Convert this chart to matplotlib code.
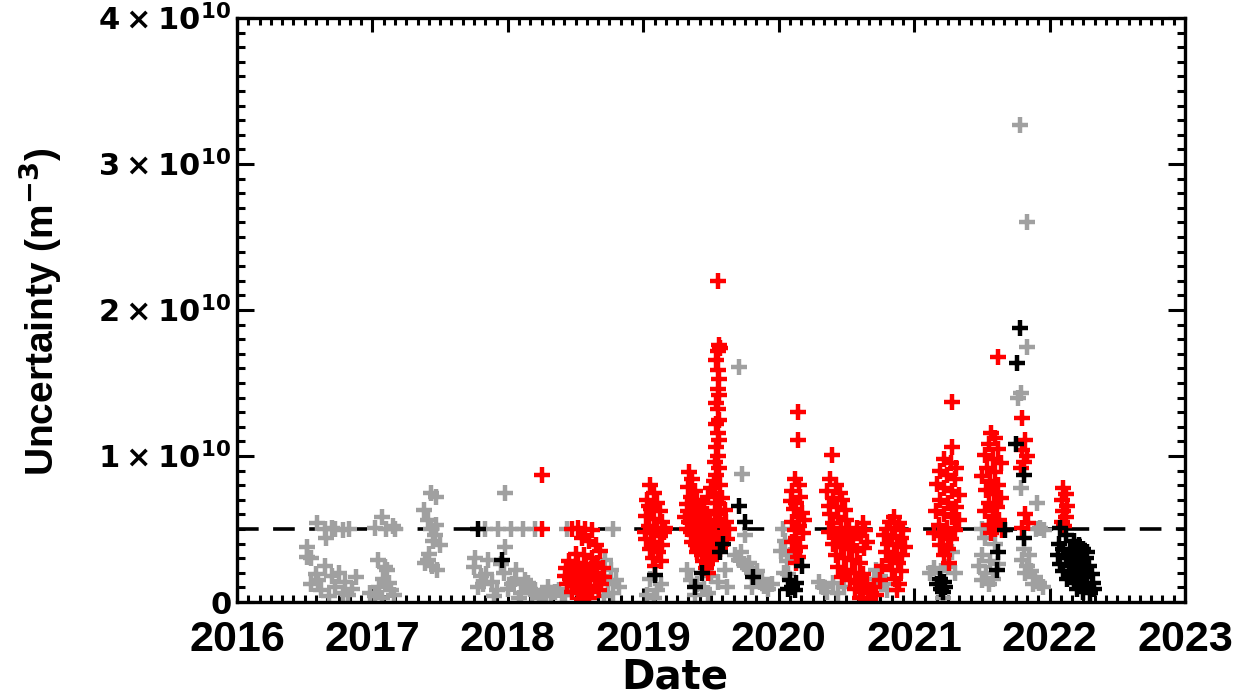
import numpy as np
import matplotlib
matplotlib.use("Agg")
import matplotlib.pyplot as plt
from matplotlib.ticker import FixedLocator, MultipleLocator

plt.rcParams['font.family'] = ['Liberation Sans', 'DejaVu Sans']
plt.rcParams['font.weight'] = 'bold'
plt.rcParams['mathtext.fontset'] = 'dejavusans'
plt.rcParams['mathtext.default'] = 'bf'

SCALE = 1e9  # values below are in units of 1e9 m^-3

# ---------------- data (decimal year, uncertainty / 1e9) ----------------
gray_t = [
    # 2016.5-2016.9
    2016.52, 2016.52, 2016.55, 2016.60, 2016.55, 2016.65, 2016.70, 2016.72, 2016.78, 2016.80,
    2016.85, 2016.88, 2016.62, 2016.68, 2016.75, 2016.59, 2016.65, 2016.70, 2016.72, 2016.78,
    2016.83, 2016.66, 2016.58, 2016.82,
    # 2017.0-2017.2
    2017.02, 2017.07, 2017.10, 2017.15, 2017.17, 2016.98, 2017.02, 2017.05, 2017.08, 2017.11,
    2017.14, 2017.04, 2017.09, 2017.12, 2017.07, 2017.16,
    # 2017.35-2017.55
    2017.43, 2017.47, 2017.38, 2017.41, 2017.43, 2017.46, 2017.50, 2017.45, 2017.41, 2017.44,
    2017.48, 2017.39, 2017.47, 2017.42,
    # 2017.7-2018.4
    2017.83, 2017.93, 2018.02, 2018.11, 2018.20, 2017.98, 2017.98, 2017.85, 2017.75, 2017.80,
    2017.88, 2017.95, 2018.00, 2018.05, 2018.10, 2018.15, 2018.20, 2018.25, 2018.30, 2018.35,
    2017.78, 2017.84, 2017.90, 2017.97, 2018.03, 2018.08, 2018.13, 2018.18, 2018.23, 2018.28,
    2017.76, 2017.82, 2017.92, 2018.06, 2018.16, 2018.32, 2018.38, 2018.40,
    # around 2018.5 red blob
    2018.44, 2018.78, 2018.72, 2018.76, 2018.70, 2018.74, 2018.78, 2018.82, 2018.71, 2018.80,
    2018.42, 2018.45,
    # 2019.0-2019.2
    2019.05, 2019.10, 2019.03, 2019.13, 2019.08,
    # 2019.3-2019.65
    2019.35, 2019.40, 2019.45, 2019.50, 2019.55, 2019.60, 2019.32, 2019.38, 2019.62, 2019.48,
    # 2019.7-2019.95
    2019.71, 2019.73, 2019.75, 2019.68, 2019.71, 2019.74, 2019.77, 2019.80, 2019.83, 2019.86,
    2019.89, 2019.92, 2019.72, 2019.78, 2019.84, 2019.88, 2019.95, 2019.80,
    # 2020.0-2020.1
    2020.03, 2020.05, 2020.02, 2020.06, 2020.04, 2020.08, 2020.07,
    # 2020.3-2020.5
    2020.33, 2020.36, 2020.40, 2020.44, 2020.30, 2020.48,
    # 2020.7-2020.8
    2020.72, 2020.75, 2020.78, 2020.70, 2020.80,
    # 2021.1-2021.35
    2021.15, 2021.20, 2021.25, 2021.30, 2021.12, 2021.28, 2021.21,
    # 2021.45-2021.65
    2021.50, 2021.55, 2021.52, 2021.60, 2021.50, 2021.56, 2021.48, 2021.53, 2021.58, 2021.55,
    2021.62, 2021.50,
    # 2021.75-2021.97
    2021.78, 2021.83, 2021.83, 2021.79, 2021.77, 2021.79, 2021.91, 2021.81, 2021.80, 2021.83,
    2021.86, 2021.89, 2021.92, 2021.95, 2021.82, 2021.88, 2021.90, 2021.93, 2021.96, 2021.85,
]
gray_v = [
    3.8, 3.1, 3.0, 1.5, 1.2, 2.5, 1.8, 1.0, 0.6, 1.4,
    0.9, 1.7, 0.8, 0.4, 2.0, 5.4, 5.0, 5.1, 5.0, 4.9,
    5.0, 4.4, 1.9, 0.5,
    5.1, 5.8, 5.0, 5.2, 5.0, 0.6, 0.4, 1.0, 1.6, 2.2,
    0.8, 2.9, 2.4, 1.3, 0.3, 0.5,
    7.5, 7.2, 6.3, 5.6, 5.0, 4.6, 3.9, 4.2, 2.9, 2.5,
    2.2, 2.7, 5.3, 3.3,
    5.0, 5.0, 5.0, 5.0, 5.0, 7.5, 3.8, 2.9, 2.4, 1.8,
    1.4, 2.6, 0.9, 1.6, 0.6, 1.3, 0.8, 0.5, 1.0, 0.7,
    1.0, 1.9, 0.4, 2.0, 1.2, 0.3, 1.5, 0.6, 0.3, 0.4,
    3.0, 1.2, 0.8, 2.2, 0.9, 0.6, 0.8, 0.5,
    5.0, 5.0, 2.9, 2.2, 1.8, 1.2, 0.6, 1.0, 0.4, 1.5,
    0.5, 0.9,
    1.6, 0.8, 0.5, 1.2, 0.3,
    1.5, 1.2, 0.9, 1.8, 1.4, 2.2, 2.2, 0.5, 1.0, 0.6,
    16.1, 8.8, 4.6, 3.2, 2.9, 2.6, 2.3, 2.0, 1.7, 1.4,
    1.1, 0.9, 3.4, 2.7, 2.1, 1.6, 1.2, 1.0,
    5.0, 4.2, 3.5, 2.8, 2.0, 3.2, 1.9,
    1.0, 0.7, 1.3, 0.6, 1.4, 1.0,
    2.2, 1.8, 1.2, 1.6, 0.8,
    2.3, 2.1, 2.4, 2.0, 2.0, 3.4, 0.3,
    5.0, 5.3, 4.4, 4.0, 3.2, 2.8, 2.5, 2.0, 1.6, 1.2,
    2.6, 1.5,
    32.7, 26.0, 17.5, 14.3, 14.0, 7.8, 6.8, 3.6, 2.9, 2.5,
    2.1, 1.7, 1.3, 1.0, 2.0, 1.2, 5.0, 5.1, 4.9, 3.2,
]

red_t = [
    # 2018.25
    2018.25, 2018.25,
    # 2018.4-2018.72 blob
    2018.47, 2018.52, 2018.57, 2018.62, 2018.55, 2018.60, 2018.65, 2018.68, 2018.50, 2018.56,
    2018.62, 2018.45, 2018.52, 2018.58, 2018.66, 2018.43, 2018.48, 2018.54, 2018.60, 2018.65,
    2018.70, 2018.42, 2018.46, 2018.51, 2018.56, 2018.61, 2018.66, 2018.71, 2018.44, 2018.49,
    2018.54, 2018.59, 2018.64, 2018.69, 2018.47, 2018.52, 2018.57, 2018.62, 2018.67, 2018.55,
    2018.60, 2018.58, 2018.50, 2018.63,
    # 2019.0-2019.18
    2019.05, 2019.08, 2019.03, 2019.10, 2019.06, 2019.12, 2019.02, 2019.08, 2019.14, 2019.04,
    2019.10, 2019.16, 2019.06, 2019.12, 2019.02, 2019.08, 2019.14, 2019.05, 2019.11, 2019.07,
    2019.13, 2019.09, 2019.04, 2019.15, 2019.01,
    # 2019.3-2019.65 blob
    2019.34, 2019.36, 2019.33, 2019.38, 2019.35, 2019.40, 2019.32, 2019.37, 2019.42, 2019.45,
    2019.48, 2019.50, 2019.47,
    2019.31, 2019.34, 2019.37, 2019.40, 2019.43, 2019.46, 2019.49, 2019.52, 2019.55, 2019.58,
    2019.61, 2019.63, 2019.32, 2019.35, 2019.38, 2019.41, 2019.44, 2019.47, 2019.50, 2019.53,
    2019.56, 2019.59, 2019.62, 2019.36, 2019.39, 2019.42, 2019.45, 2019.48, 2019.51, 2019.54,
    2019.57, 2019.40, 2019.43, 2019.46, 2019.49, 2019.52, 2019.44, 2019.47, 2019.50, 2019.46,
    2019.48, 2019.53, 2019.57, 2019.60, 2019.55, 2019.39, 2019.44, 2019.33,
    # 2019.55 column
    2019.55, 2019.56, 2019.55, 2019.57, 2019.54, 2019.55, 2019.56, 2019.55, 2019.56, 2019.54,
    2019.55, 2019.56, 2019.54, 2019.55, 2019.56, 2019.54, 2019.55, 2019.53, 2019.56, 2019.54,
    2019.52, 2019.57, 2019.53, 2019.58,
    # 2020.08-2020.21
    2020.14, 2020.14, 2020.12, 2020.15, 2020.10, 2020.16, 2020.13, 2020.11, 2020.17, 2020.14,
    2020.10, 2020.15, 2020.12, 2020.18, 2020.13, 2020.10, 2020.16, 2020.12, 2020.14, 2020.13,
    2020.19, 2020.09,
    # 2020.33-2020.72
    2020.39, 2020.38, 2020.42, 2020.36, 2020.45, 2020.40, 2020.47, 2020.37, 2020.43, 2020.49,
    2020.38, 2020.44, 2020.50, 2020.40, 2020.46, 2020.52, 2020.37, 2020.43, 2020.49, 2020.55,
    2020.40, 2020.46, 2020.52, 2020.58, 2020.42, 2020.48, 2020.54, 2020.60, 2020.44, 2020.50,
    2020.56, 2020.62, 2020.47, 2020.53, 2020.59, 2020.65, 2020.56, 2020.62, 2020.68, 2020.60,
    2020.66, 2020.72, 2020.70,
    2020.62, 2020.64, 2020.61, 2020.65, 2020.63, 2020.58,
    # 2020.75-2020.93
    2020.85, 2020.82, 2020.89, 2020.80, 2020.86, 2020.92, 2020.78, 2020.84, 2020.90, 2020.81,
    2020.87, 2020.93, 2020.79, 2020.85, 2020.91, 2020.82, 2020.88, 2020.84, 2020.90, 2020.86,
    2020.89, 2020.87, 2020.76, 2020.75,
    # 2021.15-2021.34
    2021.28, 2021.28, 2021.22, 2021.27, 2021.31, 2021.19, 2021.24, 2021.30, 2021.17, 2021.22,
    2021.28, 2021.33, 2021.19, 2021.25, 2021.31, 2021.16, 2021.22, 2021.28, 2021.33, 2021.18,
    2021.24, 2021.30, 2021.15, 2021.21, 2021.27, 2021.19, 2021.25, 2021.22, 2021.26,
    # 2021.5-2021.66
    2021.62, 2021.57, 2021.60, 2021.55, 2021.62, 2021.52, 2021.58, 2021.64, 2021.54, 2021.60,
    2021.50, 2021.56, 2021.62, 2021.53, 2021.59, 2021.64, 2021.55, 2021.61, 2021.52, 2021.58,
    2021.63, 2021.55, 2021.60, 2021.57, 2021.65,
    # 2021.8 column
    2021.80, 2021.82, 2021.80, 2021.83, 2021.81, 2021.79, 2021.82, 2021.80, 2021.84,
    # 2022.1
    2022.10, 2022.12, 2022.09, 2022.13, 2022.10, 2022.12, 2022.09, 2022.11,
]
red_v = [
    8.7, 5.0,
    5.0, 5.1, 5.0, 4.9, 4.4, 4.2, 3.9, 3.5, 3.3, 3.2,
    3.0, 2.8, 2.7, 2.6, 2.7, 2.3, 2.2, 2.1, 2.2, 2.0,
    2.3, 1.8, 1.6, 1.7, 1.5, 1.7, 1.5, 1.7, 1.2, 1.1,
    1.2, 1.0, 1.1, 1.2, 0.7, 0.6, 0.5, 0.7, 0.8, 0.2,
    0.3, 1.9, 2.5, 2.4,
    8.0, 7.5, 7.0, 6.8, 6.4, 6.2, 5.9, 5.7, 5.5, 5.2,
    5.0, 5.1, 4.7, 4.5, 4.3, 4.1, 3.9, 3.6, 3.4, 3.0,
    2.8, 2.5, 6.6, 4.8, 4.8,
    8.9, 8.4, 7.9, 7.6, 7.2, 7.0, 6.7, 6.5, 6.3, 6.8,
    7.2, 7.8, 6.0,
    5.8, 5.5, 5.7, 5.4, 5.6, 5.3, 5.5, 5.2, 5.6, 5.3,
    5.5, 5.0, 5.0, 4.8, 4.6, 4.9, 4.7, 4.5, 4.8, 4.6,
    4.4, 4.7, 4.3, 4.1, 3.9, 4.2, 3.8, 4.0, 3.7, 3.9,
    3.6, 3.4, 3.2, 3.5, 3.1, 3.3, 2.8, 2.6, 2.9, 2.3,
    2.0, 6.2, 6.0, 6.3, 6.8, 6.1, 6.0, 6.2,
    22.0, 17.6, 17.2, 17.4, 16.6, 15.9, 15.3, 14.6, 14.2, 13.6,
    13.2, 12.5, 12.2, 11.6, 11.1, 10.6, 10.0, 9.6, 9.2, 8.7,
    8.3, 8.0, 7.5, 7.1,
    13.0, 11.1, 8.4, 8.0, 7.6, 7.2, 6.8, 6.4, 6.1, 5.8,
    5.5, 5.2, 4.9, 4.7, 4.4, 4.1, 3.8, 3.5, 3.1, 2.7,
    5.6, 6.9,
    10.1, 8.4, 8.0, 7.6, 7.5, 7.1, 7.0, 6.6, 6.5, 6.3,
    6.0, 5.8, 5.6, 5.4, 5.1, 5.0, 4.8, 4.6, 4.4, 4.3,
    4.0, 3.8, 3.6, 3.5, 3.2, 3.0, 2.9, 2.7, 2.4, 2.2,
    2.0, 1.9, 1.7, 1.5, 1.3, 1.2, 0.9, 0.7, 0.6, 0.3,
    0.2, 0.5, 1.0,
    5.4, 4.9, 4.5, 4.1, 3.7, 5.1,
    5.8, 5.5, 5.4, 5.0, 5.1, 4.9, 4.6, 4.5, 4.4, 4.0,
    3.9, 3.8, 3.4, 3.3, 3.2, 2.8, 2.7, 2.2, 2.1, 1.6,
    1.2, 0.8, 2.5, 1.5,
    13.7, 10.6, 9.8, 9.5, 9.2, 9.0, 8.7, 8.4, 8.1, 7.8,
    7.6, 7.3, 7.0, 6.8, 6.5, 6.2, 6.0, 5.8, 5.6, 5.3,
    5.1, 4.9, 4.7, 4.5, 4.3, 3.9, 3.6, 3.2, 2.7,
    16.8, 11.6, 11.2, 10.8, 10.5, 10.1, 9.8, 9.5, 9.2, 8.9,
    8.6, 8.3, 8.0, 7.7, 7.4, 7.1, 6.8, 6.5, 6.2, 5.9,
    5.6, 5.3, 5.0, 4.7, 4.9,
    12.6, 11.1, 10.4, 10.0, 9.6, 9.2, 6.0, 5.1, 5.4,
    7.8, 7.4, 7.0, 6.6, 6.2, 5.8, 5.5, 5.2,
]

black_t = [
    2017.78, 2017.96,
    2019.09, 2019.38, 2019.43, 2019.57, 2019.59, 2019.71, 2019.75, 2019.81,
    2020.08, 2020.10, 2020.12, 2020.07, 2020.13, 2020.17,
    2021.17, 2021.20, 2021.22, 2021.19, 2021.23, 2021.21,
    2021.62, 2021.61, 2021.67,
    2021.78, 2021.76, 2021.75, 2021.81, 2021.81,
    2022.08, 2022.12, 2022.18, 2022.07, 2022.22, 2022.10, 2022.15, 2022.20, 2022.25, 2022.06,
    2022.12, 2022.17, 2022.22, 2022.27, 2022.08, 2022.14, 2022.19, 2022.24, 2022.29, 2022.10,
    2022.16, 2022.21, 2022.26, 2022.31, 2022.13, 2022.18, 2022.23, 2022.28, 2022.32, 2022.20,
    2022.25, 2022.30, 2022.33, 2022.28,
]
black_v = [
    5.0, 2.9,
    1.85, 1.0, 2.0, 3.4, 4.0, 6.6, 5.5, 1.7,
    1.5, 1.0, 0.8, 0.9, 1.3, 2.5,
    1.2, 0.9, 1.4, 1.6, 1.0, 0.7,
    3.4, 2.2, 4.9,
    18.8, 16.4, 10.8, 8.7, 4.4,
    5.1, 4.6, 4.2, 4.0, 3.9, 3.6, 3.5, 3.4, 3.6, 3.2,
    3.0, 2.9, 2.8, 3.0, 2.6, 2.5, 2.4, 2.3, 2.5, 2.1,
    2.0, 1.8, 1.7, 1.9, 1.6, 1.3, 1.2, 1.1, 1.3, 0.9,
    0.7, 0.6, 0.9, 3.4,
]

threshold = 5.0          # dashed reference level (x1e9)
year_ticks = [2016, 2017, 2018, 2019, 2020, 2021, 2022, 2023]
y_ticks = [0, 10, 20, 30, 40]
y_tick_labels = [r'$0$', r'$1\times10^{10}$', r'$2\times10^{10}$',
                 r'$3\times10^{10}$', r'$4\times10^{10}$']

# ---------------- plot ----------------
fig = plt.figure(figsize=(12.45, 7.0), dpi=100)
ax = fig.add_axes([237/1245, 1 - 602/700, (1185-237)/1245, (602-18)/700])

mk = dict(marker='+', linestyle='none', markersize=11, markeredgewidth=3.2)
ax.plot(gray_t, np.array(gray_v) * SCALE, color='#a0a0a0', **mk)
ax.plot(red_t, np.array(red_v) * SCALE, color='#ff0000', **mk)
ax.plot(black_t, np.array(black_v) * SCALE, color='black', **mk)

ax.axhline(threshold * SCALE, color='black', lw=2.6, dashes=(6, 4), zorder=1)

ax.set_xlim(2016, 2023)
ax.set_ylim(0, 40 * SCALE)
ax.set_xticks(year_ticks)
ax.set_xticklabels([str(y) for y in year_ticks])
ax.xaxis.set_minor_locator(FixedLocator(np.arange(2016, 2023.001, 1/12)))
ax.set_yticks(np.array(y_ticks) * SCALE)
ax.set_yticklabels(y_tick_labels)
ax.yaxis.set_minor_locator(MultipleLocator(1 * SCALE))

for s in ax.spines.values():
    s.set_linewidth(2.4)

ax.tick_params(axis='both', which='both', direction='in', top=True, right=True, width=2.2)
ax.tick_params(axis='y', which='major', length=12, labelsize=22, pad=4)
ax.tick_params(axis='y', which='minor', length=6)
ax.tick_params(axis='x', which='major', length=10, labelsize=31, pad=13)
ax.tick_params(axis='x', which='minor', length=5)

ax.set_xlabel('Date', fontsize=29, fontweight='bold', family='DejaVu Sans', va='baseline')
ax.xaxis.set_label_coords(0.462, -0.1473)
ax.set_ylabel(r'Uncertainty (m$^{-3}$)', fontsize=28, fontweight='bold')
ax.yaxis.set_label_coords(-0.183, 0.497)

fig.savefig('out.png', dpi=100, facecolor='white')
